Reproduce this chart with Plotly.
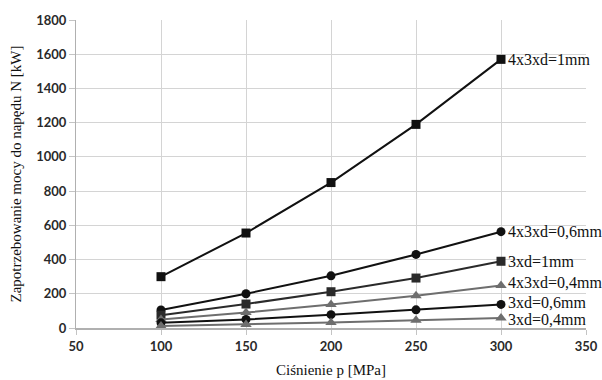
import plotly.graph_objects as go

pressure = [100, 150, 200, 250, 300]
series_names = ["4x3xd=1mm", "4x3xd=0,6mm", "3xd=1mm", "4x3xd=0,4mm", "3xd=0,6mm", "3xd=0,4mm"]
v_4x3_1 = [300, 555, 850, 1190, 1570]
v_4x3_06 = [105, 200, 305, 430, 563]
v_3_1 = [75, 140, 212, 292, 390]
v_4x3_04 = [50, 90, 138, 188, 248]
v_3_06 = [30, 50, 78, 106, 138]
v_3_04 = [12, 20, 32, 45, 58]
x_ticks = [50, 100, 150, 200, 250, 300, 350]
y_ticks = [0, 200, 400, 600, 800, 1000, 1200, 1400, 1600, 1800]

values = [v_4x3_1, v_4x3_06, v_3_1, v_4x3_04, v_3_06, v_3_04]
colors = ["#111111", "#111111", "#2a2a2a", "#6e6e6e", "#111111", "#6e6e6e"]
symbols = ["square", "circle", "square", "triangle-up", "circle", "triangle-up"]
marker_sizes = [9, 9, 9, 10, 9, 10]
label_yshift = [0, 0, 0, 3, 2, -1]

fig = go.Figure()
for name, vals, col, sym, ms, ys in zip(series_names, values, colors, symbols, marker_sizes, label_yshift):
    fig.add_trace(go.Scatter(
        x=pressure, y=vals, mode="lines+markers", name=name,
        line=dict(color=col, width=2),
        marker=dict(symbol=sym, size=ms, color=col),
        showlegend=False, cliponaxis=False,
    ))
    fig.add_annotation(
        x=pressure[-1], y=vals[-1], text=name, showarrow=False,
        xanchor="left", yanchor="middle", xshift=5, yshift=ys,
        font=dict(family="Liberation Serif", size=16, color="#111111"),
    )

fig.update_layout(
    width=602, height=380,
    margin=dict(l=76, r=16, t=20, b=52),
    paper_bgcolor="white", plot_bgcolor="white",
    font=dict(family="Lato", color="#333333"),
)
tick_font = dict(family="Lato", size=13, color="#2a2a2a", weight=700)
fig.update_xaxes(
    range=[50, 350], tickvals=x_ticks, ticktext=[str(t) for t in x_ticks],
    showgrid=True, gridcolor="#d4d4d4", gridwidth=1,
    showline=True, linecolor="#b0b0b0", linewidth=2, mirror=False,
    zeroline=False, ticks="outside", ticklen=5, tickcolor="#c4c4c4", automargin=False,
    tickfont=tick_font,
    title=dict(text="Ciśnienie p [MPa]", font=dict(family="Liberation Serif", size=15, color="#111111"), standoff=12),
)
fig.update_yaxes(
    range=[0, 1800], tickvals=y_ticks, ticktext=[str(t) for t in y_ticks],
    showgrid=True, gridcolor="#d4d4d4", gridwidth=1,
    showline=True, linecolor="#b0b0b0", linewidth=1,
    zeroline=False, ticks="outside", ticklen=6, tickcolor="#c4c4c4", automargin=False,
    tickfont=tick_font,
    title=dict(text="Zapotrzebowanie mocy do napędu N [kW]", font=dict(family="Liberation Serif", size=15, color="#111111"), standoff=10),
)
fig.write_html("out.html", config={"displayModeBar": False},
               post_script="document.body.style.margin='0px';")
